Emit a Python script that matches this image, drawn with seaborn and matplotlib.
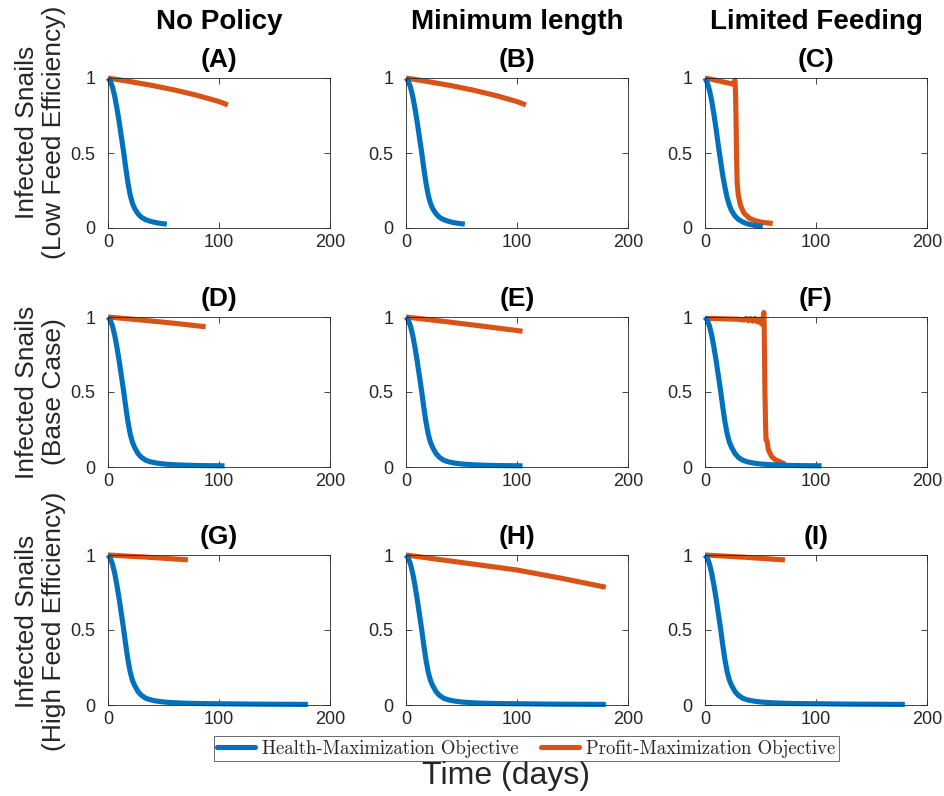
import numpy as np
import pandas as pd
import matplotlib
matplotlib.use("Agg")
import matplotlib.pyplot as plt
import seaborn as sns
from matplotlib.lines import Line2D

# ---------------- data ----------------
col_titles = ["No Policy", "Minimum length", "Limited Feeding"]
panel_letters = ["(A)", "(B)", "(C)", "(D)", "(E)", "(F)", "(G)", "(H)", "(I)"]
row_labels = ["Infected Snails\n(Low Feed Efficiency)",
              "Infected Snails\n(Base Case)",
              "Infected Snails\n(High Feed Efficiency)"]
series_names = ["Health-Maximization Objective", "Profit-Maximization Objective"]
x_ticks = [0, 100, 200]
y_ticks = [0, 0.5, 1]
y_ticklabels = ["0", "0.5", "1"]

# Health-maximization (blue)
blue_t_low = [0, 2, 4, 6, 8, 10, 12, 14, 16, 18, 20, 22, 24, 27, 30, 34, 38, 43, 48, 53]
blue_v_low = [1, 0.98, 0.94, 0.88, 0.80, 0.71, 0.61, 0.51, 0.40, 0.30, 0.22, 0.165, 0.13,
              0.095, 0.072, 0.055, 0.045, 0.036, 0.03, 0.026]
blue_t_c = [0, 2, 4, 6, 8, 10, 12, 14, 16, 18, 20, 22, 24, 27, 30, 34, 38, 43, 48, 52]
blue_v_c = [1, 0.97, 0.92, 0.85, 0.76, 0.66, 0.55, 0.45, 0.35, 0.27, 0.20, 0.15, 0.115,
            0.08, 0.058, 0.04, 0.028, 0.02, 0.014, 0.01]
blue_t_base = [0, 2, 4, 6, 8, 10, 12, 14, 16, 18, 20, 22, 24, 27, 30, 34, 38, 43, 50, 60,
               70, 80, 90, 105]
blue_v_base = [1, 0.98, 0.94, 0.88, 0.80, 0.71, 0.61, 0.51, 0.40, 0.30, 0.22, 0.165, 0.13,
               0.09, 0.065, 0.045, 0.035, 0.027, 0.02, 0.015, 0.012, 0.01, 0.009, 0.008]
blue_t_high = [0, 2, 4, 6, 8, 10, 12, 14, 16, 18, 20, 22, 24, 27, 30, 34, 38, 43, 50, 60,
               70, 80, 90, 105, 130, 155, 180]
blue_v_high = [1, 0.98, 0.94, 0.88, 0.80, 0.71, 0.61, 0.51, 0.40, 0.30, 0.22, 0.165, 0.13,
               0.09, 0.065, 0.045, 0.035, 0.027, 0.02, 0.015, 0.012, 0.01, 0.009, 0.008,
               0.006, 0.005, 0.004]

# Profit-maximization (orange)
orange_t_a = [0, 20, 40, 60, 80, 100, 108]
orange_v_a = [1, 0.976, 0.95, 0.92, 0.885, 0.843, 0.82]
orange_t_b = [0, 20, 40, 60, 80, 100, 108]
orange_v_b = [1, 0.976, 0.95, 0.92, 0.885, 0.843, 0.82]
orange_t_c = [0, 10, 20, 25, 27, 27.5, 28, 28.5, 29, 30, 32, 35, 40, 45, 50, 55, 61]
orange_v_c = [1, 0.985, 0.968, 0.96, 0.985, 0.9, 0.7, 0.45, 0.3, 0.22, 0.15, 0.1, 0.065,
              0.05, 0.04, 0.035, 0.03]
orange_t_d = [0, 30, 60, 88]
orange_v_d = [1, 0.98, 0.958, 0.935]
orange_t_e = [0, 35, 70, 105]
orange_v_e = [1, 0.97, 0.938, 0.905]
orange_t_f = [0, 10, 20, 30, 35, 37, 39, 41, 43, 45, 47, 49, 50, 51, 52, 52.5, 53, 53.3,
              53.6, 54, 54.5, 55, 56, 57, 58, 60, 63, 66, 69, 72]
orange_v_f = [0.99, 0.99, 0.987, 0.985, 0.98, 0.99, 0.975, 0.99, 0.972, 0.99, 0.968, 0.985,
              0.96, 0.98, 0.95, 1.0, 1.03, 0.95, 0.75, 0.5, 0.3, 0.18, 0.17, 0.12, 0.1,
              0.07, 0.05, 0.04, 0.03, 0.02]
orange_t_g = [0, 36, 72]
orange_v_g = [1, 0.985, 0.968]
orange_t_h = [0, 50, 100, 140, 180]
orange_v_h = [1, 0.95, 0.9, 0.845, 0.785]
orange_t_i = [0, 36, 72]
orange_v_i = [1, 0.985, 0.967]

blue_sets = [(blue_t_low, blue_v_low), (blue_t_low, blue_v_low), (blue_t_c, blue_v_c),
             (blue_t_base, blue_v_base), (blue_t_base, blue_v_base), (blue_t_base, blue_v_base),
             (blue_t_high, blue_v_high), (blue_t_high, blue_v_high), (blue_t_high, blue_v_high)]
orange_sets = [(orange_t_a, orange_v_a), (orange_t_b, orange_v_b), (orange_t_c, orange_v_c),
               (orange_t_d, orange_v_d), (orange_t_e, orange_v_e), (orange_t_f, orange_v_f),
               (orange_t_g, orange_v_g), (orange_t_h, orange_v_h), (orange_t_i, orange_v_i)]

# ---------------- style ----------------
sns.set_style("ticks")
plt.rcParams["font.family"] = ["Liberation Sans", "DejaVu Sans"]
BLUE = "#0072BD"
ORANGE = "#D95319"
DARK = "#262626"
palette = {series_names[0]: BLUE, series_names[1]: ORANGE}

W, H = 945, 796
fig = plt.figure(figsize=(W / 100, H / 100), dpi=100)

col_left = [108, 406, 705]
row_top = [78, 317, 555]
ax_w, ax_h = 222, 150
ylabel_y = [0.64, 0.5, 0.56]

for i in range(9):
    r, c = divmod(i, 3)
    ax = fig.add_axes([col_left[c] / W, (H - row_top[r] - ax_h) / H, ax_w / W, ax_h / H])
    bt, bv = blue_sets[i]
    ot, ov = orange_sets[i]
    df = pd.DataFrame({
        "t": list(bt) + list(ot),
        "v": list(bv) + list(ov),
        "s": [series_names[0]] * len(bt) + [series_names[1]] * len(ot),
    })
    sns.lineplot(data=df, x="t", y="v", hue="s", palette=palette, estimator=None,
                 units="s", sort=False, lw=3.7, ax=ax, legend=False,
                 hue_order=[series_names[1], series_names[0]])
    ax.set_xlim(0, 200)
    ax.set_ylim(0, 1)
    ax.set_xticks(x_ticks)
    ax.set_yticks(y_ticks)
    ax.set_yticklabels(y_ticklabels)
    ax.set_xlabel("")
    ax.set_ylabel("")
    for sp in ax.spines.values():
        sp.set_visible(True)
        sp.set_color(DARK)
        sp.set_linewidth(0.6)
    ax.tick_params(direction="in", top=True, right=True, length=4, width=0.6,
                   color=DARK, labelcolor=DARK, labelsize=13)
    ax.tick_params(axis="x", pad=4)
    ax.tick_params(axis="y", pad=9)
    for ln in ax.lines:
        ln.set_clip_on(False)
        ln.set_solid_capstyle("butt")
    ax.text(0.5, 1 + 11 / ax_h, panel_letters[i], transform=ax.transAxes,
            ha="center", va="baseline", fontsize=19, fontweight="bold", color="black")
    if r == 0:
        fig.text((col_left[c] + ax_w / 2) / W, 1 - 29 / H, col_titles[c], ha="center",
                 va="baseline", fontsize=20, fontweight="bold", color="black")
    if c == 0:
        ax.set_ylabel(row_labels[r], fontsize=19, color=DARK, linespacing=1.15)
        ax.yaxis.set_label_coords(-0.19, ylabel_y[r])

handles = [Line2D([0], [0], color=BLUE, lw=3.7), Line2D([0], [0], color=ORANGE, lw=3.7)]
leg = fig.legend(handles, series_names, ncol=2, loc="center",
                 bbox_to_anchor=((215 + 838) / 2 / W, 1 - 748.5 / H),
                 prop={"family": "cmr10", "size": 13.5}, frameon=True, fancybox=False,
                 edgecolor=DARK, handlelength=2.0, handletextpad=0.4, columnspacing=1.2,
                 borderpad=0.2)
leg.get_frame().set_linewidth(0.6)

fig.text(506 / W, 1 - 776 / H, "Time (days)", ha="center", va="center", fontsize=23,
         color=DARK)

fig.savefig("out.png", dpi=100)
